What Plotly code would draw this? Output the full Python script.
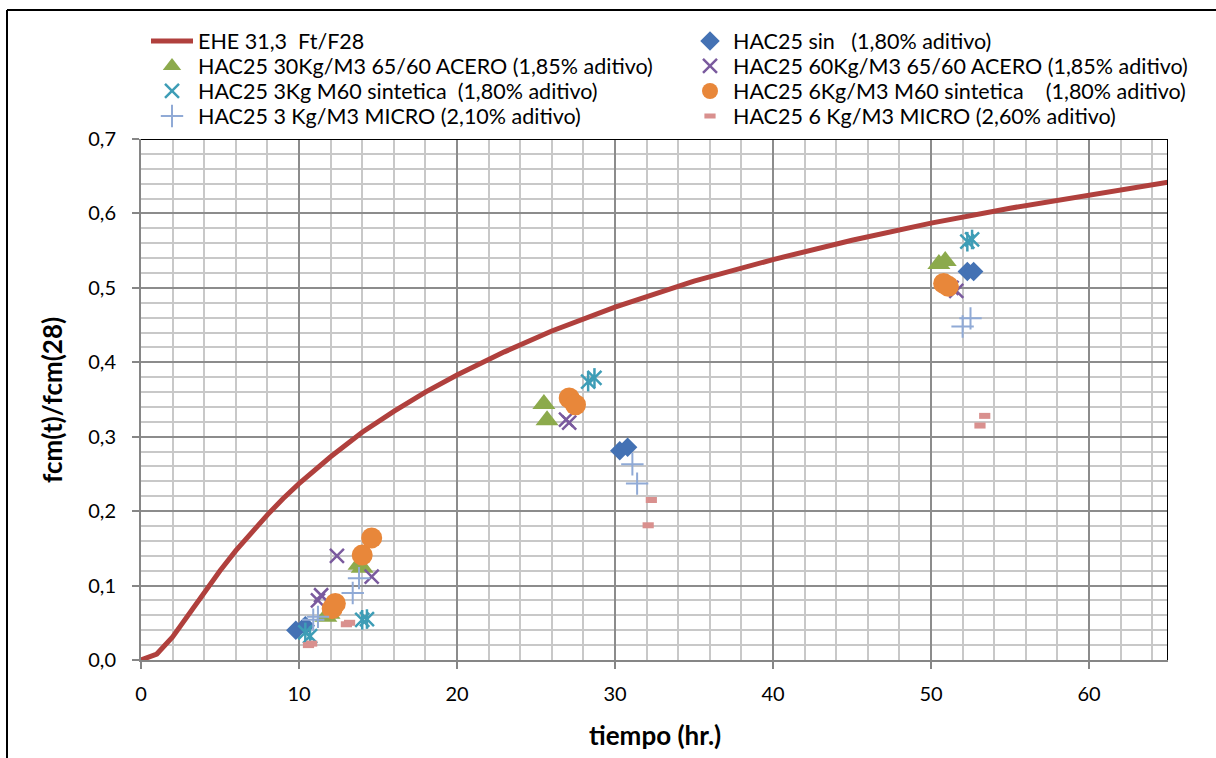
import plotly.graph_objects as go

# EHE 31,3 reference curve (hours -> fcm(t)/fcm(28))
EHE_T = [0, 1, 2, 3, 4, 5, 6, 7, 8, 9, 10, 12, 14, 16, 18, 20, 23, 26, 30, 35, 40, 45, 50, 55, 60, 65]
EHE_R = [0.0, 0.008, 0.031, 0.061, 0.091, 0.120, 0.147, 0.172, 0.195, 0.217, 0.237, 0.273, 0.306,
         0.334, 0.360, 0.383, 0.414, 0.442, 0.474, 0.509, 0.538, 0.564, 0.587, 0.607, 0.625, 0.642]

# Measured series
SIN_T = [9.8, 10.4, 30.3, 30.8, 52.3, 52.7]
SIN_R = [0.040, 0.046, 0.281, 0.286, 0.522, 0.522]

ACERO30_T = [11.7, 11.9, 13.8, 14.0, 25.5, 25.7, 50.5, 50.9]
ACERO30_R = [0.058, 0.062, 0.128, 0.124, 0.344, 0.322, 0.532, 0.536]

ACERO60_T = [11.2, 11.4, 12.4, 14.6, 26.9, 27.1, 51.3, 51.6]
ACERO60_R = [0.080, 0.087, 0.140, 0.112, 0.323, 0.319, 0.500, 0.496]

M60_3_T = [10.4, 10.7, 14.0, 14.3, 28.3, 28.7, 52.3, 52.6]
M60_3_R = [0.037, 0.032, 0.054, 0.055, 0.374, 0.379, 0.562, 0.565]

M60_6_T = [12.1, 12.3, 14.0, 14.6, 27.1, 27.5, 50.8, 51.1]
M60_6_R = [0.069, 0.076, 0.141, 0.164, 0.352, 0.343, 0.506, 0.502]

MICRO3_T = [10.9, 11.2, 13.4, 13.8, 31.1, 31.4, 52.0, 52.5]
MICRO3_R = [0.054, 0.058, 0.090, 0.110, 0.263, 0.237, 0.448, 0.459]

MICRO6_T = [10.6, 10.8, 13.0, 13.2, 32.1, 32.3, 53.1, 53.4]
MICRO6_R = [0.020, 0.022, 0.048, 0.050, 0.181, 0.215, 0.315, 0.328]

X_TICKS = [0, 10, 20, 30, 40, 50, 60]
Y_TICKS = [0.0, 0.1, 0.2, 0.3, 0.4, 0.5, 0.6, 0.7]

FONT = "Lato"

L, R, T, B = 141, 48, 139, 98
W, H = 1216, 758
pw, ph = W - L - R, H - T - B


def px_x(p):
    return (p - L) / pw


def px_y(p):
    return (H - B - p) / ph


fig = go.Figure()

fig.add_trace(go.Scatter(x=EHE_T, y=EHE_R, mode="lines", name="EHE 31,3  Ft/F28", legend="legend",
                         line=dict(color="#B0403D", width=5)))
fig.add_trace(go.Scatter(x=SIN_T, y=SIN_R, mode="markers", name="HAC25 sin   (1,80% aditivo)",
                         legend="legend5",
                         marker=dict(symbol="diamond", size=15, color="#4472B4")))
fig.add_trace(go.Scatter(x=ACERO30_T, y=ACERO30_R, mode="markers", legend="legend2",
                         name="HAC25 30Kg/M3 65/60 ACERO (1,85% aditivo)",
                         marker=dict(symbol="triangle-up", size=20, color="#8CAA4C")))
fig.add_trace(go.Scatter(x=ACERO60_T, y=ACERO60_R, mode="markers", legend="legend6",
                         name="HAC25 60Kg/M3 65/60 ACERO (1,85% aditivo)",
                         marker=dict(symbol="x-thin", size=14, color="#7A5A9E",
                                     line=dict(color="#7A5A9E", width=2.5))))
fig.add_trace(go.Scatter(x=M60_3_T, y=M60_3_R, mode="markers", legend="legend3",
                         name="HAC25 3Kg M60 sintetica  (1,80% aditivo)",
                         marker=dict(symbol="x-thin", size=14, color="#3E9DB6",
                                     line=dict(color="#3E9DB6", width=2.5))))
# vertical stroke completing the star marker
fig.add_trace(go.Scatter(x=M60_3_T, y=M60_3_R, mode="markers", showlegend=False, hoverinfo="skip",
                         marker=dict(symbol="line-ns", size=14, color="#3E9DB6",
                                     line=dict(color="#3E9DB6", width=2.5))))
fig.add_trace(go.Scatter(x=M60_6_T, y=M60_6_R, mode="markers", legend="legend7",
                         name="HAC25 6Kg/M3 M60 sintetica    (1,80% aditivo)",
                         marker=dict(symbol="circle", size=21, color="#E8873A")))
fig.add_trace(go.Scatter(x=MICRO3_T, y=MICRO3_R, mode="markers", legend="legend4",
                         name="HAC25 3 Kg/M3 MICRO (2,10% aditivo)",
                         marker=dict(symbol="cross-thin", size=16, color="#90AAD6",
                                     line=dict(color="#90AAD6", width=2))))
fig.add_trace(go.Scatter(x=MICRO6_T, y=MICRO6_R, mode="markers", legend="legend8",
                         name="HAC25 6 Kg/M3 MICRO (2,60% aditivo)",
                         marker=dict(symbol="line-ew", size=8, color="#D9908E",
                                     line=dict(color="#D9908E", width=6))))

axis_common = dict(
    showgrid=True, gridcolor="#8C8C8C", gridwidth=2,
    showline=True, linecolor="#868686", linewidth=2,
    ticks="outside", ticklen=7, tickcolor="#868686", tickwidth=2,
    zeroline=False, tickfont=dict(family=FONT, size=20, color="black"),
)

fig.update_xaxes(range=[0, 65], tickvals=X_TICKS, ticklabelstandoff=8,
                 minor=dict(dtick=2, tick0=0, showgrid=True, gridcolor="#C8C8C8", gridwidth=2, ticks=""),
                 **axis_common)
fig.update_yaxes(range=[0, 0.7], tickvals=Y_TICKS, tickformat=".1f", ticklabelstandoff=12,
                 minor=dict(dtick=0.02, tick0=0, showgrid=True, gridcolor="#C8C8C8", gridwidth=2, ticks=""),
                 **axis_common)

shapes = [
    # plot-area frame (top and right)
    dict(type="line", xref="x", yref="y", x0=0, x1=65, y0=0.7, y1=0.7, line=dict(color="black", width=2)),
    dict(type="line", xref="x", yref="y", x0=65, x1=65, y0=0, y1=0.7, line=dict(color="black", width=2)),
    # chart border
    dict(type="line", xref="paper", yref="paper", x0=px_x(7), x1=px_x(7), y0=px_y(H + 5), y1=px_y(10),
         line=dict(color="black", width=2)),
    dict(type="line", xref="paper", yref="paper", x0=px_x(7), x1=px_x(W + 5), y0=px_y(10), y1=px_y(10),
         line=dict(color="black", width=2)),
]

annotations = [
    dict(text="<b>tiempo (hr.)</b>", xref="paper", yref="paper", x=px_x(655), y=px_y(735),
         xanchor="center", yanchor="middle",
         showarrow=False, font=dict(family=FONT, size=26, color="black")),
    dict(text="<b>fcm(t)/fcm(28)</b>", xref="paper", yref="paper", x=px_x(52), y=px_y(400),
         xanchor="center", yanchor="middle",
         showarrow=False, textangle=-90, font=dict(family=FONT, size=26, color="black")),
]

# two legend columns, one box per row
ROW_Y = [41, 66, 91, 116]
COL1_X, COL2_X = 146, 687
legends = {}
for i, ry in enumerate(ROW_Y):
    for col, (lx, iw) in enumerate([(COL1_X, 42), (COL2_X, 36)]):
        key = "legend" if (col == 0 and i == 0) else f"legend{col * 4 + i + 1}"
        legends[key] = dict(x=px_x(lx), y=px_y(ry), xanchor="left", yanchor="middle",
                            orientation="v", itemwidth=iw, borderwidth=0,
                            bgcolor="rgba(0,0,0,0)",
                            font=dict(family=FONT, size=21.5, color="black"))

fig.update_layout(
    width=W, height=H, autosize=False,
    margin=dict(l=L, r=R, t=T, b=B),
    paper_bgcolor="white", plot_bgcolor="white",
    separators=", ",
    font=dict(family=FONT, size=18, color="black"),
    shapes=shapes, annotations=annotations,
    **legends,
)

fig.write_html("out.html")
